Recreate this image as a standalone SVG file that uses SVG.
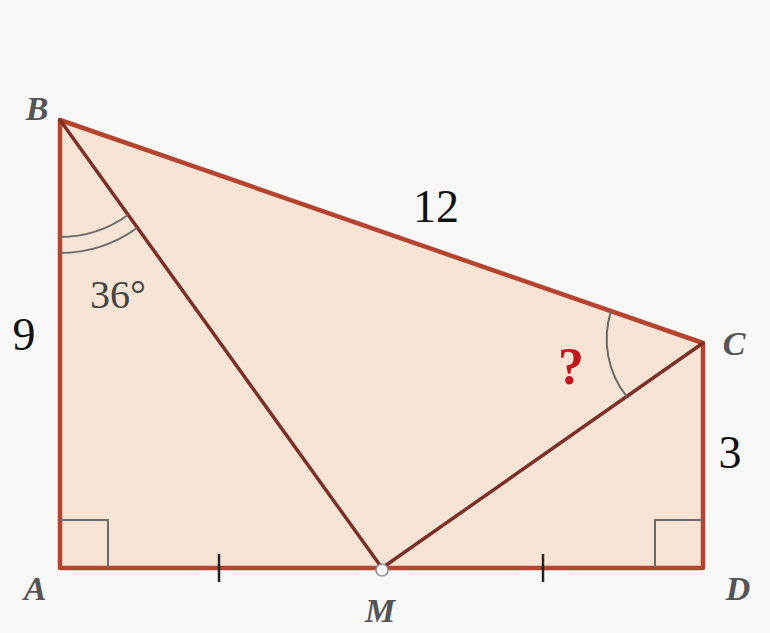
<svg xmlns="http://www.w3.org/2000/svg" width="770" height="633" viewBox="0 0 770 633">
<style>
.edge{stroke:#b5432f;stroke-width:4.5;fill:none;stroke-linecap:round;stroke-linejoin:round}
.inner{stroke:#7a2f27;stroke-width:3.5;fill:none;stroke-linecap:round}
.thin{stroke:#6b6b6b;stroke-width:2;fill:none}
.tick{stroke:#222;stroke-width:2.5}
.lbl{font-family:"Liberation Serif",serif;font-style:italic;font-weight:bold;fill:#555;font-size:34px}
.num{font-family:"Liberation Serif",serif;fill:#111;font-size:46px}
</style>
<rect width="770" height="633" fill="#f8f8f8"/>
<g id="figure">
<polygon points="60,120 703,343 703,568 60,568" fill="#f8e4d4"/>
</g>
<g id="connectors">
<polyline class="edge" points="703,343 60,120 60,568 703,568 703,343"/>
<line class="inner" x1="60" y1="120" x2="382" y2="568"/>
<line class="inner" x1="382" y1="568" x2="703" y2="343"/>
<path class="thin" d="M60,237 A117,117 0 0 0 128,215"/>
<path class="thin" d="M60,253 A133,133 0 0 0 137,228"/>
<path class="thin" d="M611,311 A93,93 0 0 0 627,397"/>
<polyline class="thin" points="60,520 108,520 108,568"/>
<polyline class="thin" points="703,520 655,520 655,568"/>
<line class="tick" x1="219" y1="554" x2="219" y2="582"/>
<line class="tick" x1="543" y1="554" x2="543" y2="582"/>
</g>
<g id="M"><circle cx="382" cy="570" r="6" fill="#fff" stroke="#8a8aa0" stroke-width="1.5"/>
<text class="lbl" x="380" y="622" text-anchor="middle">M</text></g>
<g id="B"><text class="lbl" x="37" y="120" text-anchor="middle">B</text></g>
<g id="A"><text class="lbl" x="35" y="600" text-anchor="middle">A</text></g>
<g id="D"><text class="lbl" x="738" y="600" text-anchor="middle">D</text></g>
<g id="C"><text class="lbl" x="734" y="355" text-anchor="middle">C</text></g>
<g id="labels">
<text class="num" x="436" y="222" text-anchor="middle">12</text>
<text class="num" x="24" y="350" text-anchor="middle">9</text>
<text class="num" x="730" y="468" text-anchor="middle">3</text>
<text x="118" y="308" text-anchor="middle" font-family="Liberation Serif,serif" font-size="40" fill="#444">36°</text>
<text x="571" y="384" text-anchor="middle" font-family="Liberation Serif,serif" font-weight="bold" font-size="52" fill="#c0171d">?</text>
</g>
</svg>
